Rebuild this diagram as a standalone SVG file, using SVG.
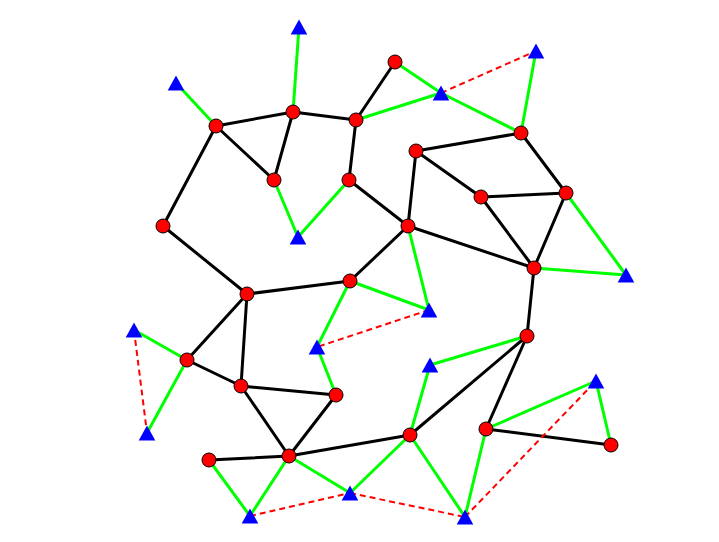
<svg xmlns="http://www.w3.org/2000/svg" width="719" height="542" viewBox="0 0 719 542">
<style>
.b{stroke:#000;stroke-width:3;fill:none}
.g{stroke:#00ff00;stroke-width:3;fill:none}
.d{stroke:#ff0000;stroke-width:2;stroke-dasharray:6,4;fill:none}
.c{fill:#ff0000;stroke:#000;stroke-width:1}
.t{fill:#0000ff}
</style>
<defs>
<circle id="dot" r="7" class="c"/>
<path id="tri" d="M0,-7.5 L8.3,7.5 L-8.3,7.5 Z" class="t"/>
</defs>
<rect width="719" height="542" fill="#fff"/>
<g id="connectors">
<path class="b" d="M216,126L293,112M293,112L356,120M356,120L395,62M216,126L274,180M293,112L274,180M356,120L349,180M216,126L163,226M349,180L408,226M416,151L408,226M416,151L481,197M416,151L521,133M521,133L566,193M481,197L566,193M481,197L534,268M566,193L534,268M408,226L534,268M408,226L350,281M350,281L247,294M163,226L247,294M247,294L187,360M247,294L241,386M187,360L241,386M241,386L336,395M241,386L289,456M336,395L289,456M209,460L289,456M289,456L410,435M410,435L527,336M527,336L534,268M527,336L486,429M486,429L611,445"/>
<path class="g" d="M299,27L293,112M176,83L216,126M356,120L441,93M395,62L441,93M441,93L521,133M521,133L536,51M274,180L298,237M349,180L298,237M566,193L626,275M534,268L626,275M408,226L429,310M350,281L429,310M350,281L317,347M336,395L317,347M134,330L187,360M187,360L147,433M430,365L410,435M430,365L527,336M486,429L596,381M611,445L596,381M486,429L465,517M410,435L465,517M410,435L350,493M289,456L350,493M289,456L250,516M209,460L250,516"/>
<path class="d" d="M441,93L536,51M429,310L317,347M134,330L147,433M250,516L350,493M350,493L465,517M465,517L596,381"/>
</g>
<g id="n1"><use href="#dot" x="216" y="126"/></g>
<g id="n2"><use href="#dot" x="293" y="112"/></g>
<g id="n3"><use href="#dot" x="356" y="120"/></g>
<g id="n4"><use href="#dot" x="395" y="62"/></g>
<g id="n5"><use href="#dot" x="274" y="180"/></g>
<g id="n6"><use href="#dot" x="349" y="180"/></g>
<g id="n7"><use href="#dot" x="163" y="226"/></g>
<g id="n8"><use href="#dot" x="416" y="151"/></g>
<g id="n9"><use href="#dot" x="481" y="197"/></g>
<g id="n10"><use href="#dot" x="521" y="133"/></g>
<g id="n11"><use href="#dot" x="566" y="193"/></g>
<g id="n12"><use href="#dot" x="408" y="226"/></g>
<g id="n13"><use href="#dot" x="534" y="268"/></g>
<g id="n14"><use href="#dot" x="350" y="281"/></g>
<g id="n15"><use href="#dot" x="247" y="294"/></g>
<g id="n16"><use href="#dot" x="187" y="360"/></g>
<g id="n17"><use href="#dot" x="241" y="386"/></g>
<g id="n18"><use href="#dot" x="336" y="395"/></g>
<g id="n19"><use href="#dot" x="527" y="336"/></g>
<g id="n20"><use href="#dot" x="209" y="460"/></g>
<g id="n21"><use href="#dot" x="289" y="456"/></g>
<g id="n22"><use href="#dot" x="410" y="435"/></g>
<g id="n23"><use href="#dot" x="486" y="429"/></g>
<g id="n24"><use href="#dot" x="611" y="445"/></g>
<g id="t1"><use href="#tri" x="299" y="27"/></g>
<g id="t2"><use href="#tri" x="176" y="83"/></g>
<g id="t3"><use href="#tri" x="441" y="93"/></g>
<g id="t4"><use href="#tri" x="536" y="51"/></g>
<g id="t5"><use href="#tri" x="298" y="237"/></g>
<g id="t6"><use href="#tri" x="626" y="275"/></g>
<g id="t7"><use href="#tri" x="429" y="310"/></g>
<g id="t8"><use href="#tri" x="317" y="347"/></g>
<g id="t9"><use href="#tri" x="134" y="330"/></g>
<g id="t10"><use href="#tri" x="147" y="433"/></g>
<g id="t11"><use href="#tri" x="430" y="365"/></g>
<g id="t12"><use href="#tri" x="596" y="381"/></g>
<g id="t13"><use href="#tri" x="250" y="516"/></g>
<g id="t14"><use href="#tri" x="350" y="493"/></g>
<g id="t15"><use href="#tri" x="465" y="517"/></g>
</svg>
